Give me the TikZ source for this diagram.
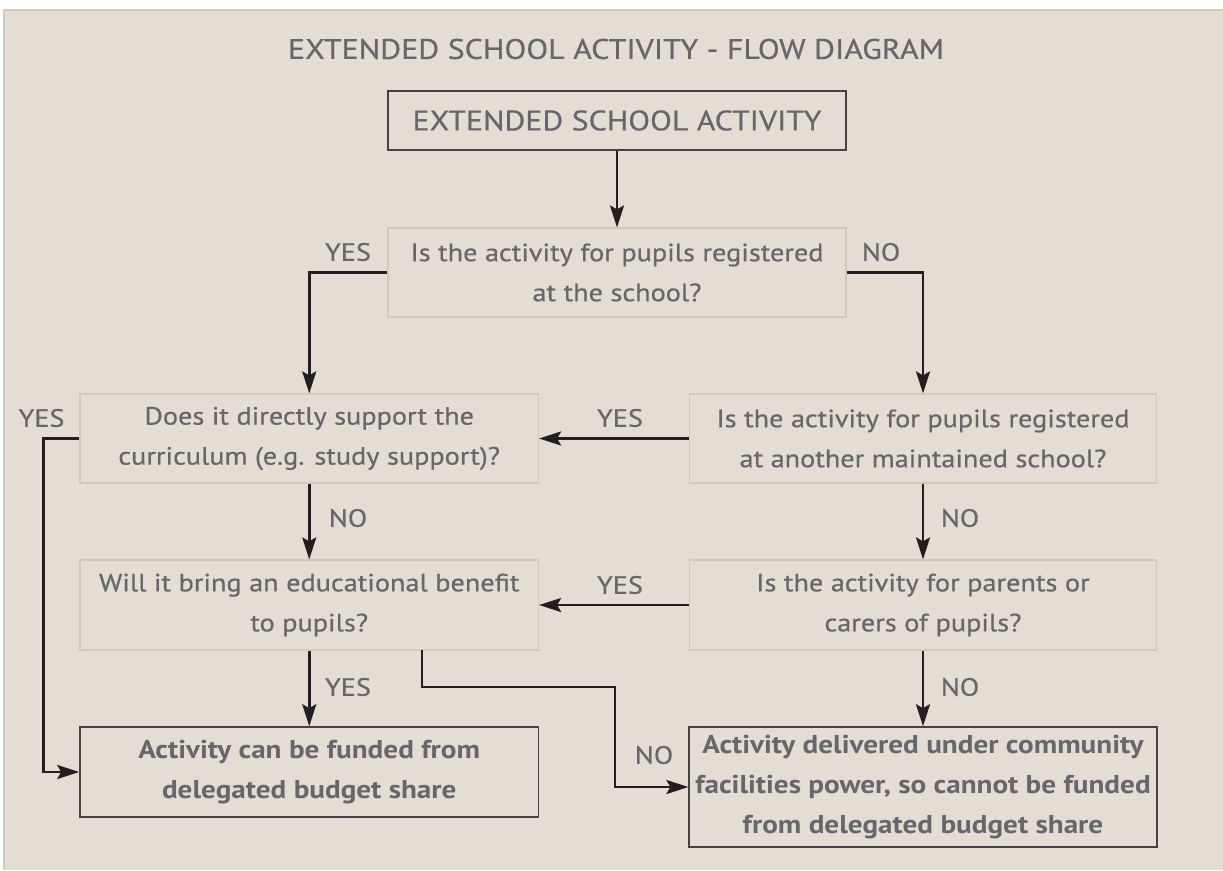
\documentclass[tikz,border=0pt]{standalone}
\usepackage{fontspec}
\setmainfont{PT Sans}[FakeStretch=1.13,FakeBold=0.5]
\newfontfamily\boldfam{PT Sans Bold}[FakeStretch=1.13]
\usetikzlibrary{arrows.meta}
\definecolor{bgc}{HTML}{E3DDD3}
\definecolor{edgec}{HTML}{D2C9B8}
\definecolor{txtc}{HTML}{66676A}
\definecolor{linec}{HTML}{231F20}
\begin{document}
\begin{tikzpicture}[x=1pt,y=-1pt,
  every node/.style={text=txtc, font=\fontsize{25}{40}\selectfont, inner sep=0pt},
  qbox/.style={draw=edgec, line width=1.2pt, fill=bgc, align=center},
  endbox/.style={draw=linec!85, line width=1.6pt, fill=bgc, align=center, font=\fontsize{25.8}{40}\selectfont\boldfam},
  lbl/.style={anchor=center},
  arr/.style={draw=linec, line width=2.5pt, -{Stealth[length=22pt,width=14pt,inset=4pt]}}]
\useasboundingbox (0,0) rectangle (1223,870);
\fill[white] (0,0) rectangle (1223,870);
\fill[bgc] (4,10) rectangle (1223,870);
\draw[edgec, line width=1.5pt] (4,870) -- (4,10) -- (1223,10);

\node (title) at (616,49) {\fontsize{28.3}{30}\selectfont EXTENDED SCHOOL ACTIVITY - FLOW DIAGRAM};
\node[draw=linec!85, line width=1.6pt, fill=bgc, minimum width=458pt, minimum height=59pt,
      font=\fontsize{28.2}{30}\selectfont] (top) at (617,120.5) {EXTENDED SCHOOL ACTIVITY};

\node[qbox, minimum width=458pt, minimum height=89pt] (q1) at (617,272.5)
  {Is the activity for pupils registered\\at the school?};
\node[qbox, minimum width=458.5pt, minimum height=89pt] (q2) at (309.25,438.5)
  {Does it directly support the\\curriculum (e.g. study support)?};
\node[qbox, minimum width=467.6pt, minimum height=89pt] (q3) at (923,438.5)
  {Is the activity for pupils registered\\at another maintained school?};
\node[qbox, minimum width=458.5pt, minimum height=90pt] (q4) at (309.25,605)
  {Will it bring an educational benefit\\to pupils?};
\node[qbox, minimum width=467.6pt, minimum height=90pt] (q5) at (923,605)
  {Is the activity for parents or\\carers of pupils?};
\node[endbox, minimum width=458.5pt, minimum height=90pt] (a) at (309.25,772)
  {Activity can be funded from\\delegated budget share};
\node[endbox, minimum width=467.6pt, minimum height=120pt] (b) at (923,787)
  {Activity delivered under community\\facilities power, so cannot be funded\\from delegated budget share};

\coordinate (yl) at (43.5,438.5);
\coordinate (n1) at (422,650);
\coordinate (n2) at (422,687);
\coordinate (n3) at (615,687);
\coordinate (n4) at (615,787);

\draw[arr] (top.south) -- (q1.north);
\draw[arr] (q1.west) -| (q2.north);
\draw[arr] (q1.east) -| (q3.north);
\draw[arr] (q3.west) -- (q2.east);
\draw[arr] (q5.west) -- (q4.east);
\draw[arr] (q2.south) -- (q4.north);
\draw[arr] (q3.south) -- (q5.north);
\draw[arr] (q4.south) -- (a.north);
\draw[arr] (q5.south) -- (b.north);
\draw[arr] (q2.west) -- (yl) |- (a.west);
\draw[arr] (n1) -- (n2) -- (n3) -- (n4) -- (b.west);

\node[lbl] (l1) at (348,252) {YES};
\node[lbl] (l2) at (881,252) {NO};
\node[lbl] (l3) at (41.5,418) {YES};
\node[lbl] (l4) at (620,418) {YES};
\node[lbl] (l5) at (348,518) {NO};
\node[lbl] (l6) at (960,518) {NO};
\node[lbl] (l7) at (620,585) {YES};
\node[lbl] (l8) at (348,687) {YES};
\node[lbl] (l9) at (960,687) {NO};
\node[lbl] (l10) at (654,755) {NO};
\end{tikzpicture}
\end{document}
